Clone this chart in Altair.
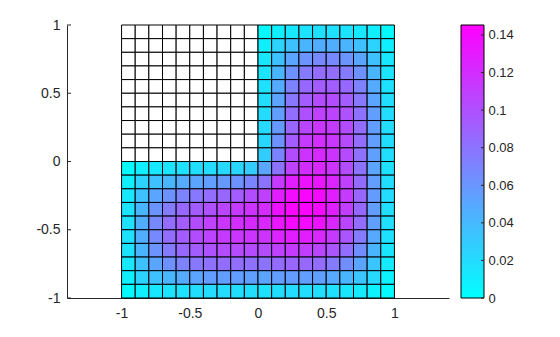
import altair as alt
import pandas as pd

# ---------------- data ----------------
X_EDGES = [-1.0, -0.9, -0.8, -0.7, -0.6, -0.5, -0.4, -0.3, -0.2, -0.1, 0.0,
           0.1, 0.2, 0.3, 0.4, 0.5, 0.6, 0.7, 0.8, 0.9, 1.0]
Y_EDGES = [1.0, 0.9, 0.8, 0.7, 0.6, 0.5, 0.4, 0.3, 0.2, 0.1, 0.0,
           -0.1, -0.2, -0.3, -0.4, -0.5, -0.6, -0.7, -0.8, -0.9, -1.0]
N = None
# rows from top (y = 0.95) to bottom (y = -0.95); None = outside the L-shaped domain
VALUES = [
    [N]*10 + [0.003, 0.009, 0.013, 0.016, 0.017, 0.017, 0.016, 0.013, 0.009, 0.003],
    [N]*10 + [0.009, 0.025, 0.035, 0.042, 0.046, 0.046, 0.042, 0.035, 0.025, 0.009],
    [N]*10 + [0.013, 0.035, 0.051, 0.061, 0.067, 0.067, 0.061, 0.051, 0.035, 0.013],
    [N]*10 + [0.016, 0.042, 0.062, 0.075, 0.083, 0.083, 0.075, 0.062, 0.042, 0.016],
    [N]*10 + [0.017, 0.048, 0.071, 0.086, 0.093, 0.093, 0.086, 0.071, 0.048, 0.017],
    [N]*10 + [0.019, 0.052, 0.077, 0.093, 0.102, 0.102, 0.093, 0.077, 0.052, 0.019],
    [N]*10 + [0.020, 0.055, 0.083, 0.100, 0.109, 0.107, 0.099, 0.081, 0.055, 0.020],
    [N]*10 + [0.022, 0.058, 0.087, 0.106, 0.115, 0.112, 0.102, 0.083, 0.055, 0.020],
    [N]*10 + [0.023, 0.062, 0.093, 0.112, 0.119, 0.115, 0.103, 0.083, 0.055, 0.019],
    [N]*10 + [0.029, 0.070, 0.102, 0.116, 0.122, 0.116, 0.103, 0.081, 0.054, 0.019],
    [0.003, 0.009, 0.013, 0.016, 0.017, 0.019, 0.020, 0.022, 0.023, 0.029,
     0.051, 0.080, 0.109, 0.120, 0.123, 0.116, 0.102, 0.080, 0.052, 0.017],
    [0.009, 0.025, 0.035, 0.042, 0.048, 0.052, 0.055, 0.058, 0.062, 0.070,
     0.080, 0.113, 0.128, 0.135, 0.133, 0.125, 0.109, 0.084, 0.055, 0.019],
    [0.013, 0.035, 0.051, 0.062, 0.071, 0.077, 0.083, 0.087, 0.093, 0.102,
     0.109, 0.128, 0.138, 0.142, 0.139, 0.129, 0.112, 0.087, 0.057, 0.020],
    [0.016, 0.042, 0.061, 0.075, 0.086, 0.093, 0.100, 0.106, 0.112, 0.116,
     0.120, 0.135, 0.142, 0.144, 0.139, 0.128, 0.110, 0.086, 0.055, 0.019],
    [0.017, 0.046, 0.067, 0.083, 0.093, 0.102, 0.109, 0.115, 0.119, 0.122,
     0.123, 0.133, 0.139, 0.139, 0.135, 0.123, 0.106, 0.083, 0.054, 0.019],
    [0.017, 0.046, 0.067, 0.083, 0.093, 0.102, 0.107, 0.112, 0.115, 0.116,
     0.116, 0.125, 0.129, 0.128, 0.123, 0.113, 0.097, 0.075, 0.049, 0.017],
    [0.016, 0.042, 0.061, 0.075, 0.086, 0.093, 0.099, 0.102, 0.103, 0.103,
     0.102, 0.109, 0.112, 0.110, 0.106, 0.097, 0.083, 0.065, 0.042, 0.015],
    [0.013, 0.035, 0.051, 0.062, 0.071, 0.077, 0.081, 0.083, 0.083, 0.081,
     0.080, 0.084, 0.087, 0.086, 0.083, 0.075, 0.065, 0.051, 0.033, 0.012],
    [0.009, 0.025, 0.035, 0.042, 0.048, 0.052, 0.055, 0.055, 0.055, 0.054,
     0.052, 0.055, 0.057, 0.055, 0.054, 0.049, 0.042, 0.033, 0.022, 0.007],
    [0.003, 0.009, 0.013, 0.016, 0.017, 0.019, 0.020, 0.020, 0.019, 0.019,
     0.017, 0.019, 0.020, 0.019, 0.019, 0.017, 0.015, 0.012, 0.007, 0.003],
]
X_TICKS = [-1, -0.5, 0, 0.5, 1]
Y_TICKS = [-1, -0.5, 0, 0.5, 1]
CBAR_TICKS = [0, 0.02, 0.04, 0.06, 0.08, 0.1, 0.12, 0.14]
CBAR_MAX = 0.1453
X_RANGE = [-1.4, 1.4]
Y_RANGE = [-1, 1]

# ---------------- build tables ----------------
filled, empty = [], []
for r, row in enumerate(VALUES):
    for c, v in enumerate(row):
        rec = {"x0": X_EDGES[c], "x1": X_EDGES[c + 1],
               "y0": Y_EDGES[r + 1], "y1": Y_EDGES[r]}
        if v is None:
            empty.append(rec)
        else:
            rec["u"] = v
            filled.append(rec)
df_filled = pd.DataFrame(filled)
df_empty = pd.DataFrame(empty)
df_yticks = pd.DataFrame({"v": Y_TICKS})
df_cbar = pd.DataFrame({"lo": [0.0], "hi": [CBAR_MAX]})
df_cticks = pd.DataFrame({"v": CBAR_TICKS})

W, H = 382, 273
TXT = "#262626"
AX = "#262626"
FONT = "Liberation Sans"
MINUS = "replace(datum.label, '\u2212', '-')"

xscale = alt.Scale(domain=X_RANGE, nice=False, zero=False)
yscale = alt.Scale(domain=Y_RANGE, nice=False, zero=False)
cscale = alt.Scale(domain=[0, CBAR_MAX], nice=False, zero=False)

xaxis = alt.Axis(values=X_TICKS, ticks=False, grid=False, domain=True,
                 domainColor=AX, domainWidth=1, labelColor=TXT, labelFontSize=14,
                 labelFont=FONT, labelPadding=8, labelFlush=False, title=None,
                 format="~g", labelExpr=MINUS)
yaxis = alt.Axis(orient="left", values=Y_TICKS, ticks=False, grid=False, domain=True,
                 domainColor=AX, domainWidth=1, labelColor=TXT, labelFontSize=14,
                 labelFont=FONT, labelPadding=7, labelFlush=False, title=None,
                 format="~g", labelExpr=MINUS)
caxis = alt.Axis(orient="right", offset=35, values=CBAR_TICKS, ticks=False, grid=False,
                 domain=False, labelColor=TXT, labelFontSize=13, labelFont=FONT,
                 labelPadding=4, labelFlush=False, title=None, format="~g")

empty_layer = alt.Chart(df_empty).mark_rect(
    fill="white", stroke="black", strokeWidth=1
).encode(
    x=alt.X("x0:Q", scale=xscale, axis=xaxis), x2="x1:Q",
    y=alt.Y("y0:Q", scale=yscale, axis=None), y2="y1:Q",
)

cells = alt.Chart(df_filled).mark_rect(stroke="black", strokeWidth=1).encode(
    x=alt.X("x0:Q", scale=xscale, axis=xaxis), x2="x1:Q",
    y=alt.Y("y0:Q", scale=yscale, axis=yaxis), y2="y1:Q",
    color=alt.Color("u:Q", scale=alt.Scale(domain=[0, CBAR_MAX],
                                           range=["#00ffff", "#ff00ff"],
                                           interpolate="rgb"), legend=None),
)

yticks = alt.Chart(df_yticks).mark_rule(color=AX, strokeWidth=1).encode(
    x=alt.value(0), x2=alt.value(4),
    y=alt.Y("v:Q", scale=yscale, axis=None),
)

grad = alt.LinearGradient(
    gradient="linear",
    stops=[alt.GradientStop(color="#00ffff", offset=0),
           alt.GradientStop(color="#ff00ff", offset=1)],
    x1=0, x2=0, y1=1, y2=0,
)
cbar = alt.Chart(df_cbar).mark_rect(color=grad, stroke="black", strokeWidth=1).encode(
    x=alt.value(W + 12), x2=alt.value(W + 35),
    y=alt.Y("lo:Q", scale=cscale, axis=caxis), y2="hi:Q",
)
cticks = alt.Chart(df_cticks).mark_rule(color=AX, strokeWidth=1).encode(
    x=alt.value(W + 32), x2=alt.value(W + 35),
    y=alt.Y("v:Q", scale=cscale, axis=None),
)

chart = alt.layer(empty_layer, cells, yticks, cbar, cticks).resolve_scale(
    y="independent"
).properties(
    width=W, height=H,
    padding={"left": 35, "top": 18, "right": 5, "bottom": 5},
    background="white",
).configure_view(stroke=None)

chart.save("out.html", embed_options={"renderer": "svg", "actions": False})
